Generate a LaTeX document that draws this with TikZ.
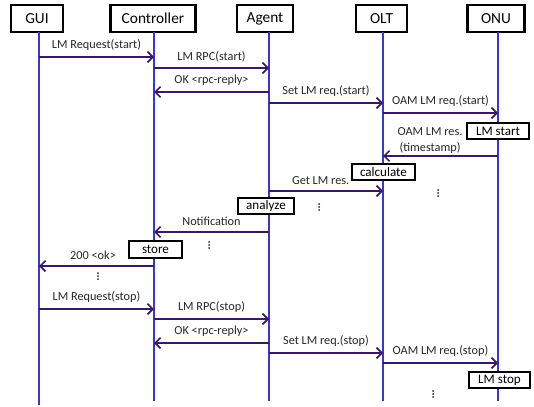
\documentclass[tikz,border=0pt]{standalone}
\usepackage{fontspec}
\setmainfont{Carlito}
\usetikzlibrary{arrows.meta}
\definecolor{lifeblue}{HTML}{3A36D0}
\definecolor{msgpurple}{HTML}{3B1766}
\tikzset{
  head/.style={draw=black, line width=1.8pt, fill=white, minimum height=20pt, inner sep=0pt, font=\fontsize{11.5}{13}\selectfont},
  life/.style={draw=lifeblue, line width=1.3pt},
  msg/.style={draw=msgpurple, line width=1.3pt, -{Straight Barb[length=4pt,width=8pt,line width=1.3pt]}},
  lbl/.style={font=\fontsize{9.2}{10}\selectfont, text=black!85, inner sep=0pt},
  actbox/.style={draw=black, line width=1.3pt, fill=white, inner sep=0pt, minimum height=12.5pt, font=\fontsize{9.8}{11}\selectfont},
  dot/.style={fill=black!85, draw=none}
}
% three stacked dots marking an elided stretch of the sequence
\newcommand\elide[2]{%
  \foreach \k in {-1,0,1} \fill[dot] (#1,#2+3*\k) circle (0.75pt);}
\begin{document}
\begin{tikzpicture}[x=0.75pt, y=-0.75pt]
\useasboundingbox (0,0) rectangle (534,406);

% participants
\node[head, minimum width=39pt] (gui) at (37,18.5) {GUI};
\node[head, minimum width=64pt] (ctl) at (153,18.5) {Controller};
\node[head, minimum width=42pt] (agt) at (265,18.5) {Agent};
\node[head, minimum width=38pt] (olt) at (381.5,18.5) {OLT};
\node[head, minimum width=43pt] (onu) at (496,18.5) {ONU};

% lifeline ends
\coordinate (guiS) at (39,32);
\coordinate (ctlS) at (154,32);
\coordinate (agtS) at (269,32);
\coordinate (oltS) at (383,32);
\coordinate (onuS) at (498,32);
\coordinate (guiE) at (39,405);
\coordinate (ctlE) at (154,401);
\coordinate (agtE) at (269,401);
\coordinate (oltE) at (383,401);
\coordinate (onuE) at (498,401);

\draw[life] (guiS) -- (guiE);
\draw[life] (ctlS) -- (ctlE);
\draw[life] (agtS) -- (agtE);
\draw[life] (oltS) -- (oltE);
\draw[life] (onuS) -- (onuE);

% message anchor points on the lifelines
\foreach \n/\y in {a/57, b/68, c/92, d/103, e/113, f/156, g/191, h/232, i/266,
                   j/309, k/319, l/343, m/353, n/363} {
  \coordinate (gui\n) at (39,\y);
  \coordinate (ctl\n) at (154,\y);
  \coordinate (agt\n) at (269,\y);
  \coordinate (olt\n) at (383,\y);
  \coordinate (onu\n) at (498,\y);
}

% start phase
\draw[msg] (guia) -- node[lbl, above=4pt] (m1) {LM Request(start)} (ctla);
\draw[msg] (ctlb) -- node[lbl, above=4pt] (m2) {LM RPC(start)} (agtb);
\draw[msg] (agtc) -- node[lbl, above=4pt] (m3) {OK <rpc-reply>} (ctlc);
\draw[msg] (agtd) -- node[lbl, above=4pt] (m4) {Set LM req.(start)} (oltd);
\draw[msg] (olte) -- node[lbl, above=4pt] (m5) {OAM LM req.(start)} (onue);

\node[actbox, minimum width=46pt] (lmstart) at (498,131) {LM start};

\draw[msg] (onuf) -- (oltf);
\node[lbl, align=center, font=\fontsize{9.2}{12}\selectfont] (m6) at (430,141) {OAM LM res.\\(timestamp)};

\node[actbox, minimum width=47pt] (calc) at (383.5,172) {calculate};

\draw[msg] (agtg) -- node[lbl, above=4pt, xshift=-4pt] (m7) {Get LM res.} (oltg);

\elide{438}{193}
\elide{319}{207}

\node[actbox, minimum width=42pt] (analyze) at (266,206) {analyze};

\draw[msg] (agth) -- node[lbl, above=4pt] (m8) {Notification} (ctlh);

\elide{209}{245}

\node[actbox, minimum width=40pt] (store) at (155.5,249.5) {store};

\draw[msg] (ctli) -- node[lbl, above=4pt, xshift=-2.6pt] (m9) {200 <ok>} (guii);

\elide{98}{276}

% stop phase
\draw[msg] (guij) -- node[lbl, above=4pt] (m10) {LM Request(stop)} (ctlj);
\draw[msg] (ctlk) -- node[lbl, above=4pt] (m11) {LM RPC(stop)} (agtk);
\draw[msg] (agtl) -- node[lbl, above=4pt] (m12) {OK <rpc-reply>} (ctll);
\draw[msg] (agtm) -- node[lbl, above=4pt] (m13) {Set LM req.(stop)} (oltm);
\draw[msg] (oltn) -- node[lbl, above=4pt] (m14) {OAM LM req.(stop)} (onun);

\node[actbox, minimum width=46pt] (lmstop) at (499.5,380) {LM stop};

\elide{433}{394}
\end{tikzpicture}
\end{document}
